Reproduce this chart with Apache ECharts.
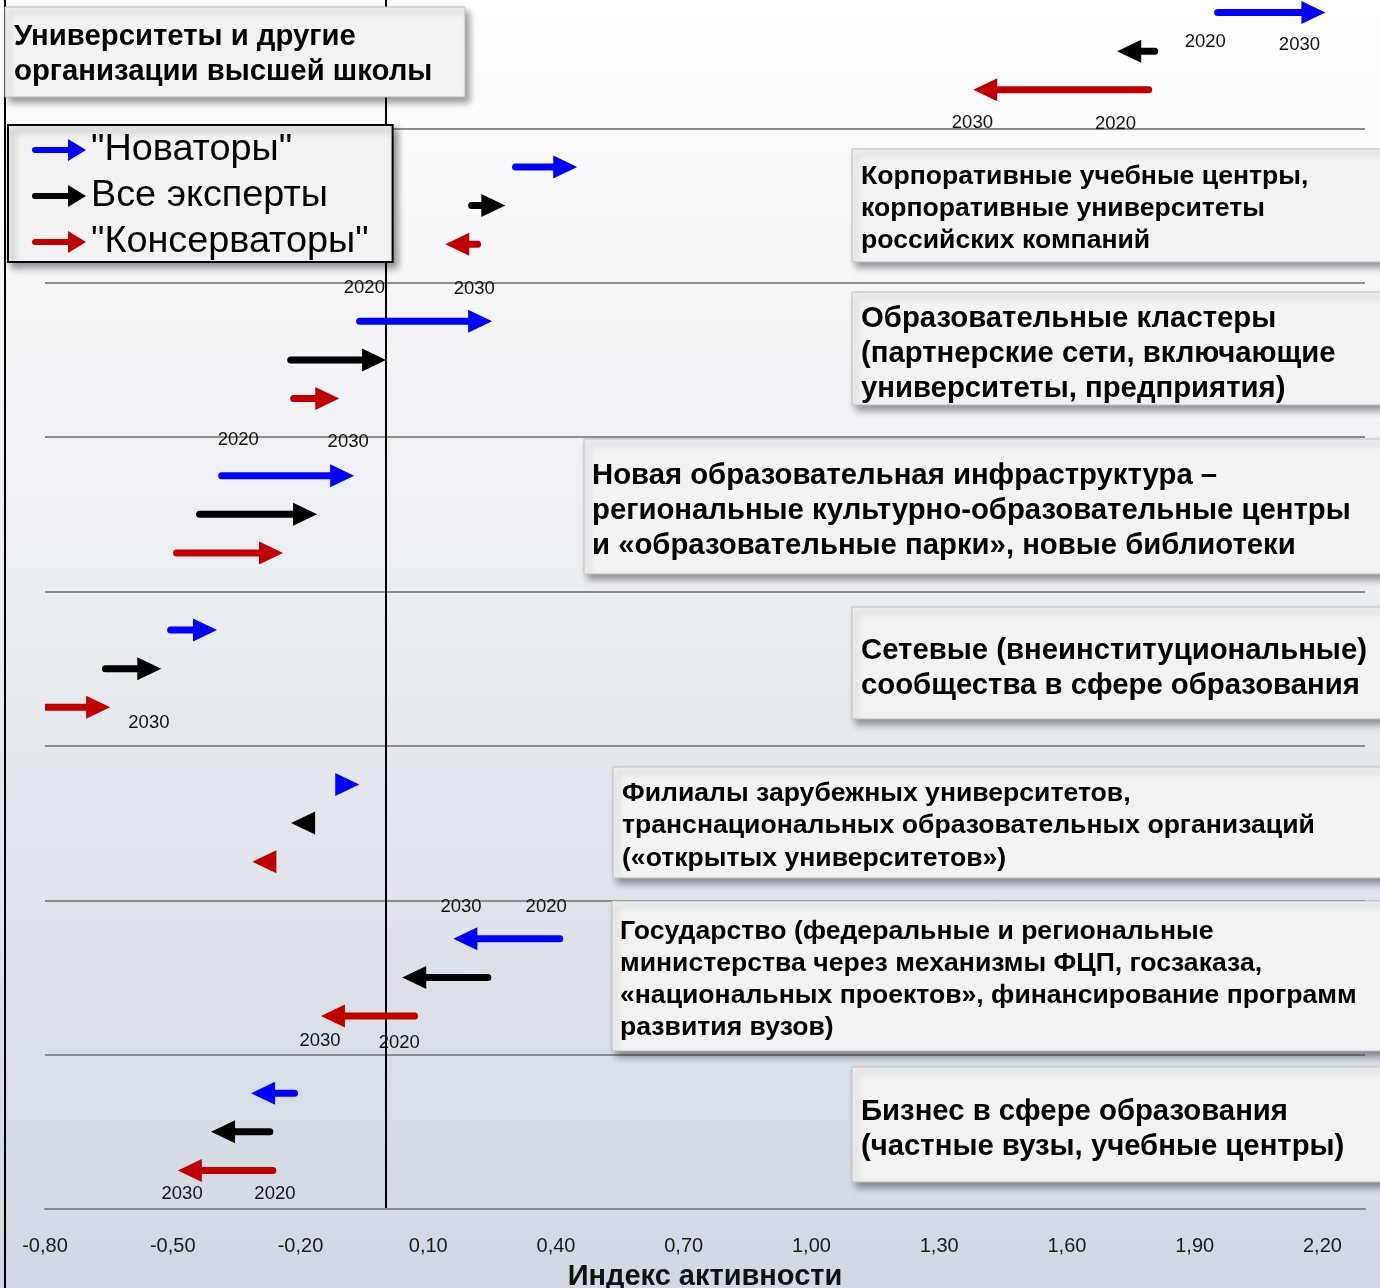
<!DOCTYPE html>
<html>
<head>
<meta charset="utf-8">
<script src="https://cdn.jsdelivr.net/npm/echarts@6/dist/echarts.min.js"></script>
<style>
html,body{margin:0;padding:0;background:#fff;}
#chart{width:1380px;height:1288px;}
</style>
</head>
<body>
<div id="chart"></div>
<script>
// ---- data ----
const categories = [
  'Университеты и другие\nорганизации высшей школы',
  'Корпоративные учебные центры,\nкорпоративные университеты\nроссийских компаний',
  'Образовательные кластеры\n(партнерские сети, включающие\nуниверситеты, предприятия)',
  'Новая образовательная инфраструктура –\nрегиональные культурно-образовательные центры\nи «образовательные парки», новые библиотеки',
  'Сетевые (внеинституциональные)\nсообщества в сфере образования',
  'Филиалы зарубежных университетов,\nтранснациональных образовательных организаций\n(«открытых университетов»)',
  'Государство (федеральные и региональные\nминистерства через механизмы ФЦП, госзаказа,\n«национальных проектов», финансирование программ\nразвития вузов)',
  'Бизнес в сфере образования\n(частные вузы, учебные центры)'
];
const seriesNames = ['"Новаторы"', 'Все эксперты', '"Консерваторы"'];
// index value in 2020 and 2030 for each category
const innovators2020 = [1.954, 0.305, -0.061, -0.385, -0.505, -0.116, 0.409, -0.214];
const innovators2030 = [2.207, 0.450, 0.250, -0.074, -0.396, -0.062, 0.159, -0.316];
const allExperts2020 = [1.806, 0.202, -0.223, -0.437, -0.658, -0.168, 0.240, -0.272];
const allExperts2030 = [1.718, 0.281, 0.001, -0.161, -0.527, -0.222, 0.039, -0.410];
const conservatives2020 = [1.792, 0.216, -0.216, -0.491, -0.900, -0.257, 0.068, -0.265];
const conservatives2030 = [1.380, 0.140, -0.109, -0.241, -0.647, -0.313, -0.152, -0.488];
// x axis ticks
const xMin = -0.8, xMax = 2.3, xStep = 0.3;
// year annotations: [x value, y value, text]
const yearLabels = [
  [1.925, 0.437, '2020'], [2.146, 0.457, '2030'], [1.378, 0.962, '2030'], [1.714, 0.969, '2020'],
  [-0.050, 2.031, '2020'], [0.208, 2.037, '2030'],
  [-0.346, 3.015, '2020'], [-0.088, 3.028, '2030'],
  [-0.556, 4.848, '2030'],
  [0.177, 6.046, '2030'], [0.377, 6.046, '2020'], [-0.154, 6.914, '2030'], [0.032, 6.921, '2020'],
  [-0.478, 7.905, '2030'], [-0.260, 7.905, '2020']
];

// ---- layout / style ----
const FONT = '"Liberation Sans", Arial, sans-serif';
const colors = ['#0000ff', '#000000', '#c00000'];
const rowOffsets = [0.25, 0.5, 0.75];
const boxes = [
  {x: 5, y: 7, h: 90, w: 460, tx: 14, ty: 19.5, fs: 29.3, lh: 35},
  {x: 852, y: 149, h: 113, tx: 861, ty: 161, fs: 26.6, lh: 32},
  {x: 852, y: 292, h: 113, tx: 861, ty: 301, fs: 29.3, lh: 35},
  {x: 584, y: 439, h: 135, tx: 592, ty: 458, fs: 29.3, lh: 35},
  {x: 852, y: 607, h: 112, tx: 861, ty: 633, fs: 29.3, lh: 35},
  {x: 613, y: 767, h: 111, tx: 622, ty: 777, fs: 26.6, lh: 32.5},
  {x: 612, y: 901, h: 150, tx: 620, ty: 916, fs: 26.6, lh: 32},
  {x: 852, y: 1067, h: 115, tx: 861, ty: 1094, fs: 29.3, lh: 35}
];

function arrowRender(rowOffset) {
  return function (params, api) {
    const s = api.value(0), e = api.value(1), c = api.value(2);
    const p0 = api.coord([s, c + rowOffset]);
    const p1 = api.coord([e, c + rowOffset]);
    const dir = p1[0] >= p0[0] ? 1 : -1;
    const len = Math.abs(p1[0] - p0[0]);
    const headL = 24, headH = 23, lw = 7;
    const color = api.visual('color');
    const baseX = p1[0] - dir * headL;
    const children = [];
    if (len > headL) {
      children.push({
        type: 'line',
        shape: {x1: p0[0], y1: p0[1], x2: baseX + dir * 2, y2: p1[1]},
        style: {stroke: color, lineWidth: lw, lineCap: 'round'}
      });
    }
    children.push({
      type: 'polygon',
      shape: {points: [[p1[0], p1[1]], [baseX, p1[1] - headH / 2], [baseX, p1[1] + headH / 2]]},
      style: {fill: color}
    });
    return {type: 'group', children: children};
  };
}

const starts = [innovators2020, allExperts2020, conservatives2020];
const ends = [innovators2030, allExperts2030, conservatives2030];

const series = seriesNames.map(function (name, k) {
  return {
    type: 'custom',
    name: name,
    clip: true,
    color: colors[k],
    itemStyle: {color: colors[k]},
    encode: {x: [0, 1], y: 2},
    renderItem: arrowRender(rowOffsets[k]),
    data: categories.map(function (c, i) { return [starts[k][i], ends[k][i], i]; }),
    z: 5
  };
});

series.push({
  type: 'custom',
  name: 'years',
  encode: {x: 0, y: 1},
  data: yearLabels.map(function (d) { return [d[0], d[1]]; }),
  renderItem: function (params, api) {
    const p = api.coord([api.value(0), api.value(1)]);
    return {
      type: 'text',
      style: {
        text: yearLabels[params.dataIndex][2],
        x: p[0], y: p[1],
        align: 'center', verticalAlign: 'middle',
        fontSize: 18.5, fontFamily: FONT, fill: '#111'
      }
    };
  },
  z: 6
});

const graphics = [];
graphics.push({
  type: 'line', z: 50,
  shape: {x1: 5, y1: 0, x2: 5, y2: 1288},
  style: {stroke: '#000', lineWidth: 2}
});
boxes.forEach(function (b, i) {
  graphics.push({
    type: 'rect', z: 60,
    shape: {x: b.x, y: b.y, width: b.w || (1390 - b.x), height: b.h},
    style: {
      fill: '#f2f2f2', stroke: '#bdbdbd', lineWidth: 1,
      shadowBlur: 7, shadowOffsetX: 4, shadowOffsetY: 5, shadowColor: 'rgba(0,0,0,0.4)'
    }
  });
  graphics.push({
    type: 'text', z: 61,
    style: {
      text: categories[i], x: b.tx, y: b.ty,
      verticalAlign: 'top', align: 'left',
      fontSize: b.fs, fontWeight: 'bold', fontFamily: FONT,
      lineHeight: b.lh, fill: '#000'
    }
  });
});

const chart = echarts.init(document.getElementById('chart'), null, {renderer: 'canvas'});
chart.setOption({
  animation: false,
  backgroundColor: new echarts.graphic.LinearGradient(0, 0, 0, 1, [
    {offset: 0, color: '#ffffff'},
    {offset: 0.1, color: '#fbfbfc'},
    {offset: 1, color: '#d1d8e1'}
  ]),
  grid: {left: 45, right: 15, top: -26, bottom: 79, containLabel: false, outerBoundsMode: 'none'},
  xAxis: {
    type: 'value', min: xMin, max: xMax, interval: xStep,
    axisLine: {onZero: false, lineStyle: {color: '#8a8a8a', width: 2}},
    axisTick: {show: false},
    splitLine: {show: false},
    axisLabel: {
      showMaxLabel: false, margin: 27, fontSize: 20, color: '#1a1a1a', fontFamily: FONT,
      formatter: function (v) { return v.toFixed(2).replace('.', ','); }
    },
    name: 'Индекс активности', nameLocation: 'middle', nameGap: 53,
    nameTextStyle: {fontSize: 29, fontWeight: 'bold', color: '#111', fontFamily: FONT}
  },
  yAxis: {
    type: 'value', min: 0, max: categories.length, interval: 1, inverse: true,
    axisLine: {show: true, onZero: true, lineStyle: {color: '#000', width: 2}},
    axisTick: {show: false},
    axisLabel: {show: false},
    splitLine: {show: true, lineStyle: {color: '#8c8c8c', width: 2}}
  },
  legend: {
    data: seriesNames,
    orient: 'vertical',
    left: 8, top: 125,
    padding: [5, 24, 0, 24],
    itemGap: 6,
    itemWidth: 54, itemHeight: 22,
    icon: 'path://M3,8 L36,8 L36,0 L54,11 L36,22 L36,14 L3,14 A3,3 0 0 1 3,8 Z',
    backgroundColor: '#f2f2f2',
    borderColor: '#000', borderWidth: 2, borderRadius: 0,
    shadowBlur: 7, shadowOffsetX: 4, shadowOffsetY: 5, shadowColor: 'rgba(0,0,0,0.4)',
    textStyle: {fontSize: 37.8, color: '#000', fontFamily: FONT, lineHeight: 40, padding: [0, 0, 0, 0]},
    selectedMode: false,
    z: 70
  },
  graphic: graphics,
  series: series
});
</script>
</body>
</html>
